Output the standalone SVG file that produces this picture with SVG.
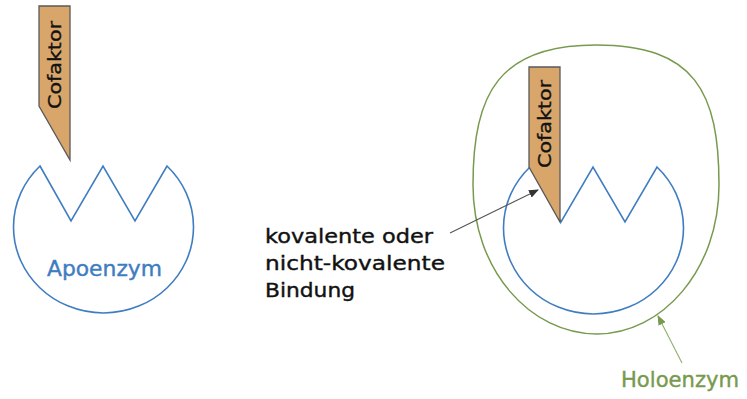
<svg xmlns="http://www.w3.org/2000/svg" width="747" height="399" viewBox="0 0 747 399">
<style>
.enz{fill:none;stroke:#3F7DC1;stroke-width:1.6;stroke-linejoin:miter}
.holo{fill:none;stroke:#779A4E;stroke-width:1.5}
.cof{fill:#D8A56B;stroke:#5A5A5A;stroke-width:1.3}
.cft{font-family:"DejaVu Sans","Liberation Sans",sans-serif;font-size:18px;fill:#111;stroke:#111;stroke-width:0.35}
.lbl{font-family:"DejaVu Sans","Liberation Sans",sans-serif;font-size:20px;fill:#111;stroke:#111;stroke-width:0.4}
.blue{font-family:"DejaVu Sans","Liberation Sans",sans-serif;font-size:21px;fill:#3F7DC1;stroke:#3F7DC1;stroke-width:0.4}
.green{font-family:"DejaVu Sans","Liberation Sans",sans-serif;font-size:22px;fill:#779A4E;stroke:#779A4E;stroke-width:0.4}
.conn{fill:none;stroke:#555;stroke-width:1.1}
.gconn{fill:none;stroke:#8FAE6B;stroke-width:1.1}
</style>
<defs>
<marker id="ah" markerWidth="10" markerHeight="8" refX="9" refY="4" orient="auto" markerUnits="userSpaceOnUse">
<path d="M0,0 L10,4 L0,8 Z" fill="#333"/>
</marker>
<marker id="gah" markerWidth="10" markerHeight="8" refX="9" refY="4" orient="auto" markerUnits="userSpaceOnUse">
<path d="M0,0 L10,4 L0,8 Z" fill="#779A4E"/>
</marker>
</defs>

<g id="apoenzym">
<path class="enz" d="M40 166 L71 221 L103 166 L135 221 L167 166 A90 86 0 1 1 40 166 Z"/>
<text class="blue" x="47" y="276" textLength="115" lengthAdjust="spacingAndGlyphs">Apoenzym</text>
</g>

<g id="cofaktor-frei">
<path class="cof" d="M39 6 L70 6 L70 160 L39 106 Z"/>
<text class="cft" transform="translate(61 65) rotate(-90)" text-anchor="middle" textLength="88" lengthAdjust="spacingAndGlyphs">Cofaktor</text>
</g>

<g id="holoenzym">
<path class="holo" d="M596 45 C695 45 719 92 719 185 C719 270 662 334 597 334 C530 334 473 270 473 185 C473 92 500 45 596 45 Z"/>
<path class="enz" d="M530 167 L561 222 L593 167 L625 222 L657 167 A90 86 0 1 1 530 167 Z"/>
<text class="green" x="621" y="387" textLength="118" lengthAdjust="spacingAndGlyphs">Holoenzym</text>
</g>

<g id="cofaktor-gebunden">
<path class="cof" d="M529 67 L560 67 L560 222 L529 167 Z"/>
<text class="cft" transform="translate(551 124) rotate(-90)" text-anchor="middle" textLength="88" lengthAdjust="spacingAndGlyphs">Cofaktor</text>
</g>

<g id="bindung">
<text class="lbl" x="265" y="243" textLength="168" lengthAdjust="spacingAndGlyphs">kovalente oder</text>
<text class="lbl" x="265" y="270" textLength="180" lengthAdjust="spacingAndGlyphs">nicht-kovalente</text>
<text class="lbl" x="265" y="297" textLength="90" lengthAdjust="spacingAndGlyphs">Bindung</text>
</g>

<g id="connectors">
<line class="conn" x1="450" y1="233" x2="538" y2="190" marker-end="url(#ah)"/>
<line class="gconn" x1="682" y1="363" x2="658" y2="316" marker-end="url(#gah)"/>
</g>
</svg>
